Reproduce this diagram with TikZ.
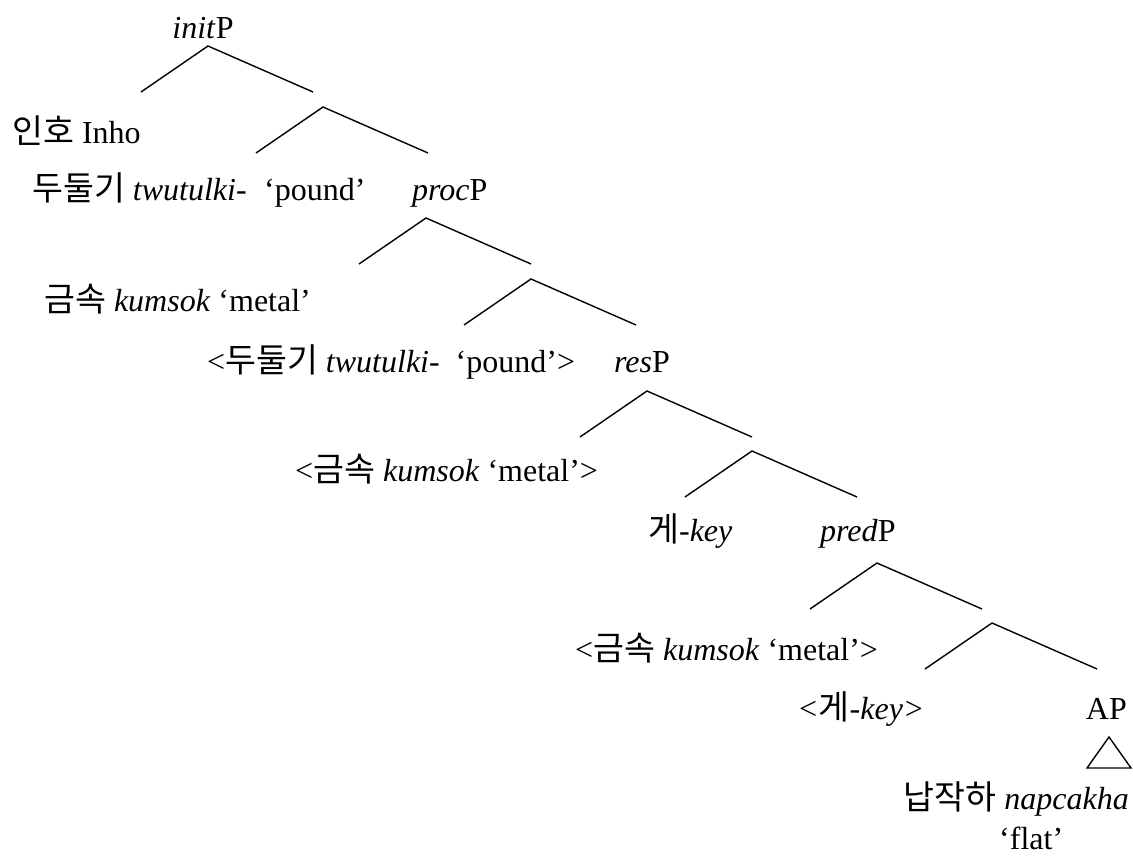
\documentclass[tikz,border=0pt]{standalone}
\usepackage{fontspec}
\setmainfont{Liberation Serif}
\newfontfamily\coreano{Noto Sans CJK KR}[Scale=1.05]
\usepackage{tikz}
\usetikzlibrary{calc}
\tikzset{
  rotulo/.style={inner sep=0pt, anchor=base west, font=\fontsize{32}{38}\selectfont},
  ramo/.style={line width=1.4pt, black, line join=miter},
}
\newcommand{\ko}[1]{{\coreano #1}}

\begin{document}
\begin{tikzpicture}[x=1pt, y=-1pt]
  \useasboundingbox (0,0) rectangle (1133,859);

  % rótulos, linha por linha
  \node[rotulo, anchor=base] (initP) at (203,39) {\textit{init}P};
  \node[rotulo] (inho) at (12,143) {\ko{인호} Inho};
  \node[rotulo] (twutulki) at (32,200) {\ko{두둘기} \textit{twutulki}-};
  \node[rotulo] (pound) at (264,200) {‘pound’};
  \node[rotulo] (procP) at (412,200) {\textit{proc}P};
  \node[rotulo] (kumsok) at (44,311) {\ko{금속} \textit{kumsok} ‘metal’};
  \node[rotulo] (twutulkiT) at (207,372) {<\ko{두둘기} \textit{twutulki}-\ \ ‘pound’>};
  \node[rotulo] (resP) at (614,372) {\textit{res}P};
  \node[rotulo] (kumsokT) at (295,481) {<\ko{금속} \textit{kumsok} ‘metal’>};
  \node[rotulo] (key) at (648,541) {\ko{게}-\textit{key}};
  \node[rotulo] (predP) at (820,541) {\textit{pred}P};
  \node[rotulo] (kumsokTT) at (575,660) {<\ko{금속} \textit{kumsok} ‘metal’>};
  \node[rotulo] (keyT) at (797,719) {\textit{<}\ko{게}-\textit{key>}};
  \node[rotulo, anchor=base east] (AP) at (1127,719) {AP};
  \node[rotulo, anchor=base east] (napcakha) at (1129,809) {\ko{납작하} \textit{napcakha}};
  \node[rotulo] (flat) at (999,849) {‘flat’};

  % ramos
  \foreach \n/\x/\y in {1/208/46, 2/323/107, 3/426/218, 4/531/279,
                        5/647/391, 6/752/451, 7/877/563, 8/992/623} {
    \coordinate (topo\n) at (\x,\y);
    \coordinate (esq\n) at ($(topo\n)+(-67,46)$);
    \coordinate (dir\n) at ($(topo\n)+(105,46)$);
    \draw[ramo] (esq\n) -- (topo\n) -- (dir\n);
  }

  % triângulo do AP
  \coordinate (triTopo) at (1109,737);
  \coordinate (triEsq) at (1087,768);
  \coordinate (triDir) at (1131,768);
  \draw[ramo] (triTopo) -- (triEsq) -- (triDir) -- cycle;
\end{tikzpicture}
\end{document}
